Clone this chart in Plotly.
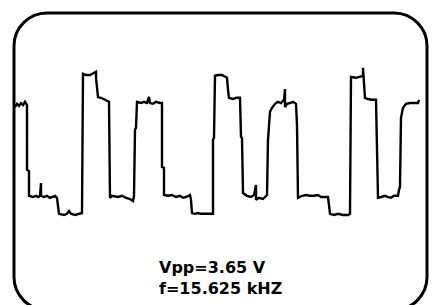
import plotly.graph_objects as go

# Oscilloscope trace: time (µs) and voltage (V)
time_us = [0, 1, 2, 3, 4, 5, 6, 6, 7, 7, 9, 10.5, 11.5, 12.5, 13, 13, 14.5, 16, 17.5, 19, 20, 21, 21.5, 22,
           24.5, 26, 27, 28, 30, 32, 33.5, 34, 35.5, 37.5, 39, 40.5, 40.5, 41, 41.5, 43, 44.5, 46, 47, 47.5,
           48.5, 51.5, 53.5, 55.5, 57.5, 59, 59.5, 60, 60.5, 61, 63, 64.5, 66, 67, 67.5, 69, 70.5, 72.5, 73.5,
           73.5, 74.5, 74.5, 76.5, 78.5, 80.5, 82.5, 84, 85.5, 87.5, 88, 88.5, 90, 91.5, 93, 95, 97.5, 99, 99,
           99.5, 100, 101.5, 103.5, 105, 106, 106.5, 107, 109, 110.5, 112.5, 113, 113.5, 114, 116, 118, 119.5,
           120.5, 120.5, 122, 124, 125.5, 126, 126.5, 127.5, 128.5, 130, 131.5, 133, 134.5, 135, 135, 136,
           137.5, 139, 140.5, 141, 141.5, 143.5, 145.5, 147.5, 149.5, 151.5, 153, 156.5, 157, 157.5, 159.5,
           161.5, 164, 166.5, 167.5, 168, 170.5, 172.5, 174, 174, 174.5, 175, 176.5, 178.5, 180.5, 181, 181.5,
           183, 185, 186.5, 188, 189.5, 191.5, 192, 192.5, 193, 194, 195.5, 197.5, 199.5, 201.5, 202]
volts = [2.70, 2.78, 2.73, 2.80, 2.75, 2.83, 2.75, 1.13, 1.10, 0.48, 0.45, 0.48, 0.45, 0.48, 0.80, 0.48, 0.45,
         0.48, 0.43, 0.45, 0.48, 0.43, 0.25, 0.03, 0.00, 0.03, 0.10, 0.03, 0.00, 0.03, 0.05, 3.53, 3.50, 3.50,
         3.53, 3.58, 3.43, 3.23, 2.95, 2.93, 2.90, 2.85, 2.83, 0.43, 0.48, 0.45, 0.48, 0.43, 0.40, 0.35, 0.48,
         2.13, 2.18, 2.83, 2.80, 2.83, 2.80, 2.95, 2.80, 2.78, 2.83, 2.80, 2.80, 1.20, 1.18, 0.50, 0.48, 0.50,
         0.45, 0.48, 0.43, 0.45, 0.50, 0.38, 0.05, 0.03, 0.05, 0.03, 0.03, 0.03, 0.03, 1.88, 1.93, 3.48, 3.50,
         3.50, 3.45, 3.43, 3.13, 2.93, 2.90, 2.93, 2.93, 1.95, 1.93, 0.55, 0.48, 0.45, 0.50, 0.75, 0.38, 0.43,
         0.40, 0.48, 0.50, 1.88, 2.58, 2.68, 2.78, 2.83, 2.80, 2.88, 3.15, 2.70, 2.78, 2.80, 2.83, 2.78, 2.25,
         0.43, 0.48, 0.50, 0.48, 0.48, 0.50, 0.45, 0.45, 0.25, 0.03, 0.00, 0.03, 0.00, 0.00, 0.03, 3.45, 3.43,
         3.45, 3.48, 3.68, 3.38, 2.93, 2.90, 2.88, 2.88, 1.25, 0.43, 0.45, 0.48, 0.45, 0.43, 0.48, 0.48, 0.63,
         0.70, 2.43, 2.68, 2.78, 2.80, 2.80, 2.80, 2.88]

label_lines = ["Vpp=3.65 V", "f=15.625 kHZ"]

W, H = 438, 305

fig = go.Figure()
fig.add_trace(go.Scatter(x=time_us, y=volts, mode="lines",
                         line=dict(color="black", width=2.4), hoverinfo="skip"))

# rounded bezel (paper coords)
x0, x1 = 14 / W, 427 / W
yt, yb = 1 - 13 / H, 1 - 310 / H
r = 33
rx, ry = r / W, r / H
k = 0.5523
path = (f"M {x0+rx},{yt} L {x1-rx},{yt} "
        f"C {x1-rx+k*rx},{yt} {x1},{yt-ry+k*ry} {x1},{yt-ry} "
        f"L {x1},{yb+ry} "
        f"C {x1},{yb+ry-k*ry} {x1-rx+k*rx},{yb} {x1-rx},{yb} "
        f"L {x0+rx},{yb} "
        f"C {x0+rx-k*rx},{yb} {x0},{yb+ry-k*ry} {x0},{yb+ry} "
        f"L {x0},{yt-ry} "
        f"C {x0},{yt-ry+k*ry} {x0+rx-k*rx},{yt} {x0+rx},{yt} Z")
fig.add_shape(type="path", path=path, xref="paper", yref="paper",
              line=dict(color="black", width=3))

fig.add_annotation(text="<br>".join(label_lines), xref="paper", yref="paper",
                   x=157 / W, y=1 - 256 / H, xanchor="left", yanchor="top", align="left",
                   showarrow=False,
                   font=dict(family="DejaVu Sans", size=16, color="black", weight="bold"))

fig.update_xaxes(range=[-7.5, 211.5], visible=False)
fig.update_yaxes(range=[-2.25, 5.375], visible=False)
fig.update_layout(width=W, height=H, margin=dict(l=0, r=0, t=0, b=0),
                  paper_bgcolor="white", plot_bgcolor="white", showlegend=False)

fig.write_html("out.html", config={"displayModeBar": False},
               post_script="document.body.style.margin='0';document.body.style.overflow='hidden';")
